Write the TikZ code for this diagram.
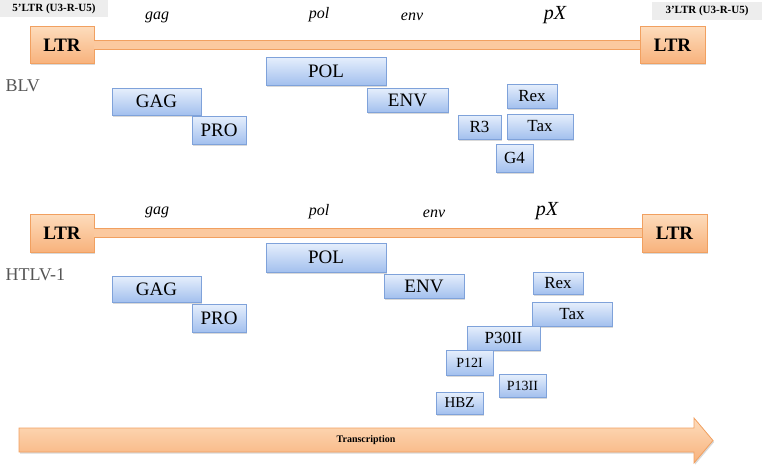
\documentclass[tikz,border=0pt]{standalone}
\usepackage{fontspec}
\setmainfont{Liberation Serif}
\usetikzlibrary{shadows}
\definecolor{ortop}{HTML}{FDDCBC}
\definecolor{orbot}{HTML}{F8B27C}
\definecolor{orborder}{HTML}{F1A060}
\definecolor{bltop}{HTML}{E6EFFC}
\definecolor{blbot}{HTML}{A3C0EE}
\definecolor{blborder}{HTML}{7FA2DA}
\definecolor{graybg}{HTML}{EDEDED}
\definecolor{txtgray}{HTML}{555555}
\begin{document}
\begin{tikzpicture}[x=1pt,y=-1pt,
  ltrbox/.style={draw=orborder, line width=0.8pt, top color=ortop, bottom color=orbot,
    inner sep=0pt, font=\fontsize{19}{19}\selectfont\bfseries,
    drop shadow={shadow xshift=1.2pt, shadow yshift=-1.5pt, opacity=0.3, fill=gray}},
  genebox/.style={draw=blborder, line width=0.8pt, top color=bltop, bottom color=blbot,
    inner sep=0pt, font=\fontsize{19}{19}\selectfont,
    drop shadow={shadow xshift=1.2pt, shadow yshift=-1.5pt, opacity=0.3, fill=gray}},
  smallgene/.style={genebox, font=\fontsize{17}{17}\selectfont},
  tinygene/.style={genebox, font=\fontsize{14}{14}\selectfont},
  genelbl/.style={font=\fontsize{16}{16}\selectfont\itshape},
  pxlbl/.style={font=\fontsize{20}{20}\selectfont\itshape},
  virus/.style={anchor=west, text=txtgray, font=\fontsize{18}{18}\selectfont},
  endlbl/.style={fill=graybg, inner sep=0pt, font=\fontsize{11}{11}\selectfont\bfseries},
  barout/.style={line width=10pt, draw=orborder},
  barin/.style={line width=8pt, draw=ortop!55!orbot}
]
\useasboundingbox (0,0) rectangle (762,466);

% end labels
\node[endlbl, minimum width=108, minimum height=17] (lbl5) at (54,8.5) {5'LTR (U3-R-U5)};
\node[endlbl, minimum width=110, minimum height=18] (lbl3) at (707,11) {3'LTR (U3-R-U5)};

% ===== BLV =====
\node[ltrbox, minimum width=64, minimum height=37] (ltrA) at (62,45) {LTR};
\node[ltrbox, minimum width=65, minimum height=37] (ltrB) at (672.5,45) {LTR};
\draw[barout] (ltrA.east) -- (ltrB.west);
\draw[barin] ([xshift=-0.5pt]ltrA.east) -- ([xshift=0.5pt]ltrB.west);

\node[genelbl] (gA) at (157,17) {gag};
\node[genelbl] (pA) at (319,15) {pol};
\node[genelbl] (eA) at (412,17) {env};
\node[pxlbl] (xA) at (555,15) {pX};

\node[virus] (blv) at (2,86) {BLV};

\node[genebox, minimum width=120, minimum height=28] (polA) at (326,71) {POL};
\node[genebox, minimum width=89, minimum height=27] (gagA) at (156.5,101.5) {GAG};
\node[genebox, minimum width=81, minimum height=24] (envA) at (407.5,100) {ENV};
\node[genebox, minimum width=54, minimum height=28] (proA) at (219,130) {PRO};
\node[smallgene, minimum width=50, minimum height=24] (rexA) at (532,96) {Rex};
\node[smallgene, minimum width=43, minimum height=24] (r3A) at (479.5,127) {R3};
\node[smallgene, minimum width=66, minimum height=25] (taxA) at (540,126.5) {Tax};
\node[smallgene, minimum width=37, minimum height=28] (g4A) at (514.5,158) {G4};

% ===== HTLV-1 =====
\node[ltrbox, minimum width=64, minimum height=38] (ltrC) at (62,233) {LTR};
\node[ltrbox, minimum width=65, minimum height=38] (ltrD) at (674.5,233) {LTR};
\draw[barout] (ltrC.east) -- (ltrD.west);
\draw[barin] ([xshift=-0.5pt]ltrC.east) -- ([xshift=0.5pt]ltrD.west);

\node[genelbl] (gB) at (157,212) {gag};
\node[genelbl] (pB) at (319,212) {pol};
\node[genelbl] (eB) at (434,214) {env};
\node[pxlbl] (xB) at (547,211) {pX};

\node[virus] (htlv) at (2,275) {HTLV-1};

\node[genebox, minimum width=120, minimum height=29] (polB) at (326,257.5) {POL};
\node[genebox, minimum width=89, minimum height=26] (gagB) at (156.5,289) {GAG};
\node[genebox, minimum width=80, minimum height=24] (envB) at (424,286) {ENV};
\node[genebox, minimum width=54, minimum height=28] (proB) at (219,318) {PRO};
\node[smallgene, minimum width=50, minimum height=22] (rexB) at (558,283) {Rex};
\node[smallgene, minimum width=80, minimum height=24] (taxB) at (572,314) {Tax};
\node[smallgene, minimum width=73, minimum height=24] (p30) at (503.5,338) {P30II};
\node[tinygene, minimum width=47, minimum height=25] (p12) at (469.5,362.5) {P12I};
\node[tinygene, minimum width=47, minimum height=23] (p13) at (522.5,385.5) {P13II};
\node[tinygene, minimum width=47, minimum height=22, font=\fontsize{15}{15}\selectfont] (hbz) at (459.5,403) {HBZ};

% ===== Transcription arrow =====
\shade[top color=ortop, bottom color=orbot, draw=orborder, line width=0.8pt,
  drop shadow={shadow xshift=1.2pt, shadow yshift=-1.5pt, opacity=0.3, fill=gray}]
  (19,428) -- (694,428) -- (694,418) -- (713,440.5) -- (694,463) -- (694,452) -- (19,452) -- cycle;
\node[font=\fontsize{10}{10}\selectfont\bfseries] (trans) at (366,440) {Transcription};
\end{tikzpicture}
\end{document}
